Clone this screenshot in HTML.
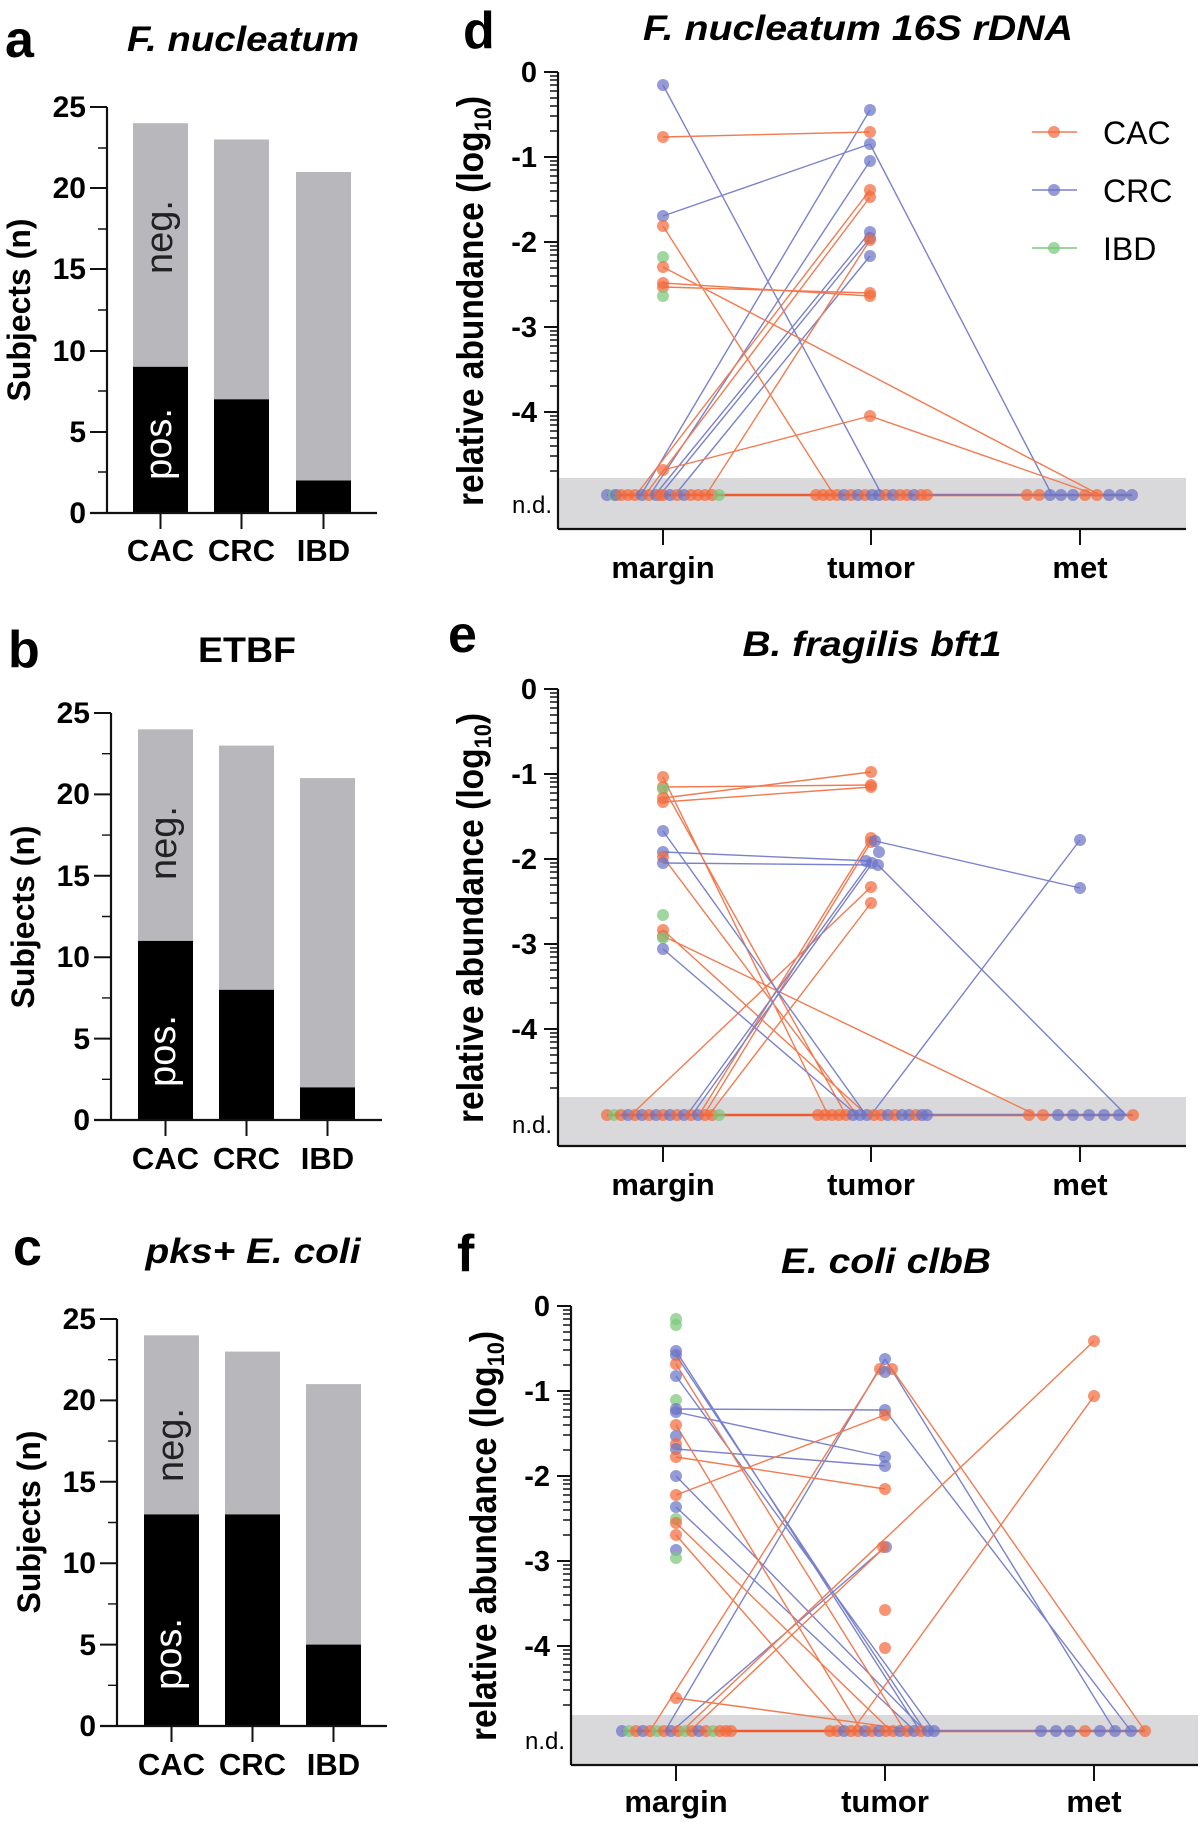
<!DOCTYPE html>
<html><head><meta charset="utf-8"><style>
html,body{margin:0;padding:0;background:#fff}
svg{display:block}
text{font-family:"Liberation Sans",Arial,sans-serif}
.bd{font-weight:bold}
.ax{stroke:#111;stroke-width:2.2;fill:none}
.tk{stroke:#111;stroke-width:2;fill:none}
.mt{stroke:#111;stroke-width:1.4;fill:none}
.o{fill:#f26b3d;fill-opacity:.72}
.b{fill:#6b74c6;fill-opacity:.72}
.g{fill:#7cc87c;fill-opacity:.72}
.lo{stroke:#f37a50;stroke-width:1.4;fill:none}
.lb{stroke:#7a82cb;stroke-width:1.4;fill:none}
.nd{stroke:#ef5a2e;stroke-width:2.6;fill:none}
.bar{fill:#b8b8bc}
</style></head><body>
<svg width="1200" height="1825" viewBox="0 0 1200 1825" xmlns="http://www.w3.org/2000/svg">
<rect width="1200" height="1825" fill="#fff"/>

<!-- ============ PANEL A ============ -->
<text x="5" y="57" class="bd" font-size="52">a</text>
<text x="243" y="51" class="bd" font-size="35" font-style="italic" text-anchor="middle" textLength="232" lengthAdjust="spacingAndGlyphs">F. nucleatum</text>
<rect class="bar" x="133" y="123.2" width="55" height="243.6"/>
<rect x="133" y="366.8" width="55" height="146.2" fill="#000"/>
<rect class="bar" x="214" y="139.5" width="55" height="259.8"/>
<rect x="214" y="399.3" width="55" height="113.7" fill="#000"/>
<rect class="bar" x="296" y="172" width="55" height="308.5"/>
<rect x="296" y="480.5" width="55" height="32.5" fill="#000"/>
<text transform="translate(172,237) rotate(-90)" font-size="38" fill="#222" text-anchor="middle">neg.</text>
<text transform="translate(171,444) rotate(-90)" font-size="38" fill="#fff" text-anchor="middle">pos.</text>
<path class="ax" d="M107 107V513M90 513H377"/>
<path class="tk" d="M90 107H107M90 188H107M90 269H107M90 351H107M90 432H107M160.5 513V529M241.5 513V529M323.5 513V529"/>
<path class="mt" d="M98 148H107M98 229H107M98 310H107M98 391H107M98 472H107"/>
<g class="bd" font-size="30" text-anchor="end">
<text x="86" y="117">25</text><text x="86" y="198">20</text><text x="86" y="279">15</text><text x="86" y="361">10</text><text x="86" y="442">5</text><text x="86" y="523">0</text>
</g>
<g class="bd" font-size="31" text-anchor="middle">
<text x="160.5" y="561">CAC</text><text x="241.5" y="561">CRC</text><text x="323.5" y="561">IBD</text>
</g>
<text transform="translate(30,310) rotate(-90)" class="bd" font-size="32" text-anchor="middle" textLength="183" lengthAdjust="spacingAndGlyphs">Subjects (n)</text>

<!-- ============ PANEL B ============ -->
<text x="8" y="667" class="bd" font-size="52">b</text>
<text x="247" y="662" class="bd" font-size="35" text-anchor="middle" textLength="98" lengthAdjust="spacingAndGlyphs">ETBF</text>
<rect class="bar" x="138" y="729.3" width="55" height="211.6"/>
<rect x="138" y="940.9" width="55" height="179.1" fill="#000"/>
<rect class="bar" x="219" y="745.6" width="55" height="244.2"/>
<rect x="219" y="989.8" width="55" height="130.2" fill="#000"/>
<rect class="bar" x="300" y="778.1" width="55" height="309.3"/>
<rect x="300" y="1087.4" width="55" height="32.6" fill="#000"/>
<text transform="translate(176,843) rotate(-90)" font-size="38" fill="#222" text-anchor="middle">neg.</text>
<text transform="translate(175,1051) rotate(-90)" font-size="38" fill="#fff" text-anchor="middle">pos.</text>
<path class="ax" d="M111 713V1120M94 1120H382"/>
<path class="tk" d="M94 713H111M94 794.4H111M94 875.8H111M94 957.2H111M94 1038.6H111M165.5 1120V1136M246.5 1120V1136M327.5 1120V1136"/>
<path class="mt" d="M102 753.7H111M102 835.1H111M102 916.5H111M102 997.9H111M102 1079.3H111"/>
<g class="bd" font-size="30" text-anchor="end">
<text x="90" y="723">25</text><text x="90" y="804">20</text><text x="90" y="886">15</text><text x="90" y="967">10</text><text x="90" y="1049">5</text><text x="90" y="1130">0</text>
</g>
<g class="bd" font-size="31" text-anchor="middle">
<text x="165.5" y="1169">CAC</text><text x="246.5" y="1169">CRC</text><text x="327.5" y="1169">IBD</text>
</g>
<text transform="translate(34,917) rotate(-90)" class="bd" font-size="32" text-anchor="middle" textLength="183" lengthAdjust="spacingAndGlyphs">Subjects (n)</text>

<!-- ============ PANEL C ============ -->
<text x="13" y="1265" class="bd" font-size="52">c</text>
<text x="253" y="1263" class="bd" font-size="35" font-style="italic" text-anchor="middle" textLength="215" lengthAdjust="spacingAndGlyphs">pks+ E. coli</text>
<rect class="bar" x="144" y="1335.3" width="55" height="179.1"/>
<rect x="144" y="1514.4" width="55" height="211.6" fill="#000"/>
<rect class="bar" x="225" y="1351.6" width="55" height="162.8"/>
<rect x="225" y="1514.4" width="55" height="211.6" fill="#000"/>
<rect class="bar" x="306" y="1384.1" width="55" height="260.5"/>
<rect x="306" y="1644.6" width="55" height="81.4" fill="#000"/>
<text transform="translate(183,1445) rotate(-90)" font-size="38" fill="#222" text-anchor="middle">neg.</text>
<text transform="translate(181,1654) rotate(-90)" font-size="38" fill="#fff" text-anchor="middle">pos.</text>
<path class="ax" d="M117 1319V1726M100 1726H387"/>
<path class="tk" d="M100 1319H117M100 1400.4H117M100 1481.8H117M100 1563.2H117M100 1644.6H117M171.5 1726V1742M252.5 1726V1742M333.5 1726V1742"/>
<path class="mt" d="M108 1359.7H117M108 1441.1H117M108 1522.5H117M108 1603.9H117M108 1685.3H117"/>
<g class="bd" font-size="30" text-anchor="end">
<text x="96" y="1329">25</text><text x="96" y="1410">20</text><text x="96" y="1492">15</text><text x="96" y="1573">10</text><text x="96" y="1655">5</text><text x="96" y="1736">0</text>
</g>
<g class="bd" font-size="31" text-anchor="middle">
<text x="171.5" y="1775">CAC</text><text x="252.5" y="1775">CRC</text><text x="333.5" y="1775">IBD</text>
</g>
<text transform="translate(40,1522) rotate(-90)" class="bd" font-size="32" text-anchor="middle" textLength="183" lengthAdjust="spacingAndGlyphs">Subjects (n)</text>

<!-- ============ PANEL D ============ -->
<text x="463" y="48" class="bd" font-size="52">d</text>
<text x="858" y="40" class="bd" font-size="35" font-style="italic" text-anchor="middle" textLength="430" lengthAdjust="spacingAndGlyphs">F. nucleatum 16S rDNA</text>
<rect x="558" y="478" width="628" height="51" fill="#d9d9db"/>
<path class="ax" d="M558 72V529M558 529H1186"/>
<path class="tk" d="M544 72H558M544 157H558M544 242H558M544 327H558M544 412H558M663 529V545M871 529V545M1080 529V545"/>
<path class="mt" d="M550 76h8M550 80h8M550 85h8M550 91h8M550 98h8M550 106h8M550 116h8M550 131h8M550 161h8M550 165h8M550 170h8M550 176h8M550 183h8M550 191h8M550 201h8M550 216h8M550 246h8M550 250h8M550 255h8M550 261h8M550 268h8M550 276h8M550 286h8M550 301h8M550 331h8M550 335h8M550 340h8M550 346h8M550 353h8M550 361h8M550 371h8M550 386h8M550 416h8M550 420h8M550 425h8M550 431h8M550 438h8M550 446h8M550 456h8M550 471h8"/>
<g class="bd" font-size="29" text-anchor="end">
<text x="537" y="82">0</text><text x="537" y="167">-1</text><text x="537" y="252">-2</text><text x="537" y="337">-3</text><text x="537" y="422">-4</text>
</g>
<text x="552" y="513" font-size="24" text-anchor="end">n.d.</text>
<g class="bd" font-size="31" text-anchor="middle">
<text x="663" y="578">margin</text><text x="871" y="578">tumor</text><text x="1080" y="578">met</text>
</g>
<text transform="translate(483,301) rotate(-90)" class="bd" font-size="37" text-anchor="middle" textLength="410" lengthAdjust="spacingAndGlyphs">relative abundance (log<tspan font-size="24" dy="8">10</tspan><tspan dy="-8">)</tspan></text>
<!-- legend -->
<path class="lo" d="M1032 132H1077"/><circle class="o" cx="1054" cy="132" r="6"/>
<path class="lb" d="M1032 190H1077"/><circle class="b" cx="1054" cy="190" r="6"/>
<path stroke="#7cc87c" stroke-width="1.4" d="M1032 248H1077"/><circle class="g" cx="1054" cy="248" r="6"/>
<g font-size="32"><text x="1103" y="144">CAC</text><text x="1103" y="202">CRC</text><text x="1103" y="260">IBD</text></g>
<!-- d lines -->
<path class="nd" d="M607 495H1132"/>
<path class="lb" d="M870 495H1132" stroke-width="1.6"/>
<g class="lb"><path d="M663 85L882 495M663 216L870 144M870 144L1052 495M641 495L870 110M650 495L870 161M655 495L870 232M660 495L870 238M675 495L870 256"/></g>
<g class="lo"><path d="M663 137L870 132M663 226L834 495M663 267L1100 495M663 283L870 296M663 287L870 293M663 470L870 416M870 416L1097 495M636 495L870 190M645 495L870 197M706 495L870 240"/></g>
<!-- d markers -->
<g>
<circle class="b" cx="663" cy="85" r="6"/><circle class="o" cx="663" cy="137" r="6"/><circle class="b" cx="663" cy="216" r="6"/><circle class="o" cx="663" cy="226" r="6"/><circle class="g" cx="663" cy="257" r="6"/><circle class="o" cx="663" cy="267" r="6"/><circle class="o" cx="663" cy="283" r="6"/><circle class="o" cx="663" cy="287" r="6"/><circle class="g" cx="663" cy="296" r="6"/><circle class="o" cx="663" cy="470" r="6"/>
<circle class="b" cx="870" cy="110" r="6"/><circle class="o" cx="870" cy="132" r="6"/><circle class="b" cx="870" cy="144" r="6"/><circle class="b" cx="870" cy="161" r="6"/><circle class="o" cx="870" cy="190" r="6"/><circle class="o" cx="870" cy="197" r="6"/><circle class="b" cx="870" cy="232" r="6"/><circle class="b" cx="870" cy="238" r="6"/><circle class="o" cx="870" cy="240" r="6"/><circle class="b" cx="870" cy="256" r="6"/><circle class="o" cx="870" cy="293" r="6"/><circle class="o" cx="870" cy="296" r="6"/><circle class="o" cx="870" cy="416" r="6"/>
</g>
<g>
<circle class="b" cx="607" cy="495" r="6"/><circle class="g" cx="614" cy="495" r="6"/><circle class="b" cx="616" cy="495" r="6"/><circle class="o" cx="621" cy="495" r="6"/><circle class="o" cx="628" cy="495" r="6"/><circle class="o" cx="635" cy="495" r="6"/><circle class="b" cx="642" cy="495" r="6"/><circle class="o" cx="649" cy="495" r="6"/><circle class="b" cx="656" cy="495" r="6"/><circle class="o" cx="660" cy="495" r="6"/><circle class="o" cx="663" cy="495" r="6"/><circle class="b" cx="670" cy="495" r="6"/><circle class="o" cx="677" cy="495" r="6"/><circle class="b" cx="684" cy="495" r="6"/><circle class="o" cx="691" cy="495" r="6"/><circle class="o" cx="698" cy="495" r="6"/><circle class="o" cx="705" cy="495" r="6"/><circle class="o" cx="712" cy="495" r="6"/><circle class="g" cx="719" cy="495" r="6"/>
<circle class="o" cx="816" cy="495" r="6"/><circle class="o" cx="823" cy="495" r="6"/><circle class="o" cx="830" cy="495" r="6"/><circle class="o" cx="837" cy="495" r="6"/><circle class="b" cx="844" cy="495" r="6"/><circle class="o" cx="851" cy="495" r="6"/><circle class="b" cx="858" cy="495" r="6"/><circle class="o" cx="865" cy="495" r="6"/><circle class="b" cx="872" cy="495" r="6"/><circle class="b" cx="879" cy="495" r="6"/><circle class="o" cx="886" cy="495" r="6"/><circle class="b" cx="893" cy="495" r="6"/><circle class="o" cx="900" cy="495" r="6"/><circle class="o" cx="907" cy="495" r="6"/><circle class="b" cx="914" cy="495" r="6"/><circle class="o" cx="921" cy="495" r="6"/><circle class="o" cx="927" cy="495" r="6"/>
<circle class="o" cx="1027" cy="495" r="6"/><circle class="o" cx="1039" cy="495" r="6"/><circle class="b" cx="1050" cy="495" r="6"/><circle class="b" cx="1061" cy="495" r="6"/><circle class="b" cx="1073" cy="495" r="6"/><circle class="o" cx="1085" cy="495" r="6"/><circle class="o" cx="1097" cy="495" r="6"/><circle class="b" cx="1109" cy="495" r="6"/><circle class="b" cx="1121" cy="495" r="6"/><circle class="b" cx="1132" cy="495" r="6"/>
</g>

<!-- ============ PANEL E ============ -->
<text x="448" y="652" class="bd" font-size="52">e</text>
<text x="872" y="656" class="bd" font-size="35" font-style="italic" text-anchor="middle" textLength="259" lengthAdjust="spacingAndGlyphs">B. fragilis bft1</text>
<rect x="558" y="1097" width="628" height="49" fill="#d9d9db"/>
<path class="ax" d="M558 689V1146M558 1146H1186"/>
<path class="tk" d="M544 689H558M544 774H558M544 859H558M544 944H558M544 1029H558M663 1146V1162M871 1146V1162M1080 1146V1162"/>
<path class="mt" d="M550 693h8M550 697h8M550 702h8M550 708h8M550 715h8M550 723h8M550 733h8M550 748h8M550 778h8M550 782h8M550 787h8M550 793h8M550 800h8M550 808h8M550 818h8M550 833h8M550 863h8M550 867h8M550 872h8M550 878h8M550 885h8M550 893h8M550 903h8M550 918h8M550 948h8M550 952h8M550 957h8M550 963h8M550 970h8M550 978h8M550 988h8M550 1003h8M550 1033h8M550 1037h8M550 1042h8M550 1048h8M550 1055h8M550 1063h8M550 1073h8M550 1088h8"/>
<g class="bd" font-size="29" text-anchor="end">
<text x="537" y="699">0</text><text x="537" y="784">-1</text><text x="537" y="869">-2</text><text x="537" y="954">-3</text><text x="537" y="1039">-4</text>
</g>
<text x="552" y="1133" font-size="24" text-anchor="end">n.d.</text>
<g class="bd" font-size="31" text-anchor="middle">
<text x="663" y="1195">margin</text><text x="871" y="1195">tumor</text><text x="1080" y="1195">met</text>
</g>
<text transform="translate(483,918) rotate(-90)" class="bd" font-size="37" text-anchor="middle" textLength="410" lengthAdjust="spacingAndGlyphs">relative abundance (log<tspan font-size="24" dy="8">10</tspan><tspan dy="-8">)</tspan></text>
<path class="nd" d="M607 1115H1133"/>
<path class="lb" d="M871 1115H1133" stroke-width="1.6"/>
<g class="lo"><path d="M663 777L828 1115M663 787L846 1115M663 787L871 785M663 798L871 772M663 802L871 787M663 857L857 1115M663 930L867 1115M663 936L1036 1115M631 1115L871 887M699 1115L871 838M704 1115L871 842M709 1115L871 903"/></g>
<g class="lb"><path d="M663 831L866 1115M663 852L871 861M663 863L871 865M663 949L857 1115M875 841L1080 888M878 865L1126 1115M871 1115L1080 840M687 1115L871 861M692 1115L871 865"/></g>
<g>
<circle class="o" cx="663" cy="777" r="6"/><circle class="o" cx="663" cy="787" r="6"/><circle class="g" cx="663" cy="789" r="6"/><circle class="o" cx="663" cy="798" r="6"/><circle class="o" cx="663" cy="802" r="6"/><circle class="b" cx="663" cy="831" r="6"/><circle class="b" cx="663" cy="852" r="6"/><circle class="o" cx="663" cy="857" r="6"/><circle class="b" cx="663" cy="863" r="6"/><circle class="g" cx="663" cy="915" r="6"/><circle class="o" cx="663" cy="930" r="6"/><circle class="o" cx="663" cy="936" r="6"/><circle class="g" cx="663" cy="938" r="6"/><circle class="b" cx="663" cy="949" r="6"/>
<circle class="o" cx="871" cy="772" r="6"/><circle class="o" cx="871" cy="785" r="6"/><circle class="o" cx="871" cy="787" r="6"/><circle class="o" cx="871" cy="838" r="6"/><circle class="o" cx="871" cy="842" r="6"/><circle class="b" cx="875" cy="841" r="6"/><circle class="b" cx="879" cy="852" r="6"/><circle class="b" cx="866" cy="861" r="6"/><circle class="b" cx="872" cy="863" r="6"/><circle class="b" cx="878" cy="865" r="6"/><circle class="o" cx="871" cy="887" r="6"/><circle class="o" cx="871" cy="903" r="6"/>
<circle class="b" cx="1080" cy="840" r="6"/><circle class="b" cx="1080" cy="888" r="6"/>
</g>
<g>
<circle class="o" cx="607" cy="1115" r="6"/><circle class="g" cx="614" cy="1115" r="6"/><circle class="o" cx="621" cy="1115" r="6"/><circle class="b" cx="628" cy="1115" r="6"/><circle class="o" cx="635" cy="1115" r="6"/><circle class="b" cx="642" cy="1115" r="6"/><circle class="o" cx="649" cy="1115" r="6"/><circle class="b" cx="656" cy="1115" r="6"/><circle class="o" cx="663" cy="1115" r="6"/><circle class="b" cx="670" cy="1115" r="6"/><circle class="o" cx="677" cy="1115" r="6"/><circle class="b" cx="684" cy="1115" r="6"/><circle class="o" cx="691" cy="1115" r="6"/><circle class="b" cx="698" cy="1115" r="6"/><circle class="o" cx="705" cy="1115" r="6"/><circle class="o" cx="712" cy="1115" r="6"/><circle class="g" cx="719" cy="1115" r="6"/>
<circle class="o" cx="818" cy="1115" r="6"/><circle class="o" cx="825" cy="1115" r="6"/><circle class="o" cx="832" cy="1115" r="6"/><circle class="o" cx="839" cy="1115" r="6"/><circle class="o" cx="846" cy="1115" r="6"/><circle class="b" cx="853" cy="1115" r="6"/><circle class="b" cx="860" cy="1115" r="6"/><circle class="b" cx="867" cy="1115" r="6"/><circle class="o" cx="874" cy="1115" r="6"/><circle class="o" cx="881" cy="1115" r="6"/><circle class="b" cx="888" cy="1115" r="6"/><circle class="o" cx="895" cy="1115" r="6"/><circle class="b" cx="902" cy="1115" r="6"/><circle class="b" cx="909" cy="1115" r="6"/><circle class="o" cx="916" cy="1115" r="6"/><circle class="b" cx="922" cy="1115" r="6"/><circle class="b" cx="927" cy="1115" r="6"/>
<circle class="o" cx="1029" cy="1115" r="6"/><circle class="o" cx="1043" cy="1115" r="6"/><circle class="b" cx="1058" cy="1115" r="6"/><circle class="b" cx="1073" cy="1115" r="6"/><circle class="b" cx="1089" cy="1115" r="6"/><circle class="b" cx="1104" cy="1115" r="6"/><circle class="b" cx="1119" cy="1115" r="6"/><circle class="o" cx="1133" cy="1115" r="6"/>
</g>

<!-- ============ PANEL F ============ -->
<text x="457" y="1271" class="bd" font-size="52">f</text>
<text x="886" y="1273" class="bd" font-size="35" font-style="italic" text-anchor="middle" textLength="210" lengthAdjust="spacingAndGlyphs">E. coli clbB</text>
<rect x="571" y="1715" width="627" height="50" fill="#d9d9db"/>
<path class="ax" d="M571 1306V1765M571 1765H1198"/>
<path class="tk" d="M557 1306H571M557 1391H571M557 1476H571M557 1561H571M557 1646H571M676 1765V1781M885 1765V1781M1094 1765V1781"/>
<path class="mt" d="M563 1310h8M563 1314h8M563 1319h8M563 1325h8M563 1332h8M563 1340h8M563 1350h8M563 1365h8M563 1395h8M563 1399h8M563 1404h8M563 1410h8M563 1417h8M563 1425h8M563 1435h8M563 1450h8M563 1480h8M563 1484h8M563 1489h8M563 1495h8M563 1502h8M563 1510h8M563 1520h8M563 1535h8M563 1565h8M563 1569h8M563 1574h8M563 1580h8M563 1587h8M563 1595h8M563 1605h8M563 1620h8M563 1650h8M563 1654h8M563 1659h8M563 1665h8M563 1672h8M563 1680h8M563 1690h8M563 1705h8"/>
<g class="bd" font-size="29" text-anchor="end">
<text x="550" y="1316">0</text><text x="550" y="1401">-1</text><text x="550" y="1486">-2</text><text x="550" y="1571">-3</text><text x="550" y="1656">-4</text>
</g>
<text x="565" y="1749" font-size="24" text-anchor="end">n.d.</text>
<g class="bd" font-size="31" text-anchor="middle">
<text x="676" y="1812">margin</text><text x="885" y="1812">tumor</text><text x="1094" y="1812">met</text>
</g>
<text transform="translate(496,1536) rotate(-90)" class="bd" font-size="37" text-anchor="middle" textLength="410" lengthAdjust="spacingAndGlyphs">relative abundance (log<tspan font-size="24" dy="8">10</tspan><tspan dy="-8">)</tspan></text>
<path class="nd" d="M622 1731H1145"/>
<path class="lb" d="M885 1731H1145" stroke-width="1.6"/>
<g class="lb"><path d="M676 1351L920 1731M676 1355L925 1731M676 1376L934 1731M676 1409L885 1410M676 1412L885 1457M676 1449L885 1466M676 1476L925 1731M676 1507L915 1731M665 1731L885 1359M672 1731L885 1547M885 1359L1115 1731M885 1410L1131 1731"/></g>
<g class="lo"><path d="M676 1364L905 1731M676 1425L862 1731M676 1457L885 1489M676 1495L885 1415M676 1523L891 1731M676 1535L847 1731M676 1698L920 1731M650 1731L880 1369M690 1731L885 1547M682 1731L1094 1341M852 1731L1094 1396M892 1369L1145 1731"/></g>
<g>
<circle class="g" cx="676" cy="1319" r="6"/><circle class="g" cx="676" cy="1325" r="6"/><circle class="b" cx="676" cy="1351" r="6"/><circle class="b" cx="676" cy="1355" r="6"/><circle class="o" cx="676" cy="1364" r="6"/><circle class="b" cx="676" cy="1376" r="6"/><circle class="g" cx="676" cy="1400" r="6"/><circle class="b" cx="676" cy="1409" r="6"/><circle class="b" cx="676" cy="1412" r="6"/><circle class="o" cx="676" cy="1425" r="6"/><circle class="b" cx="676" cy="1436" r="6"/><circle class="o" cx="676" cy="1444" r="6"/><circle class="b" cx="676" cy="1449" r="6"/><circle class="o" cx="676" cy="1457" r="6"/><circle class="b" cx="676" cy="1476" r="6"/><circle class="o" cx="676" cy="1495" r="6"/><circle class="b" cx="676" cy="1507" r="6"/><circle class="g" cx="676" cy="1519" r="6"/><circle class="o" cx="676" cy="1523" r="6"/><circle class="o" cx="676" cy="1535" r="6"/><circle class="b" cx="676" cy="1550" r="6"/><circle class="g" cx="676" cy="1558" r="6"/><circle class="o" cx="676" cy="1698" r="6"/>
<circle class="b" cx="885" cy="1359" r="6"/><circle class="o" cx="880" cy="1369" r="6"/><circle class="o" cx="892" cy="1369" r="6"/><circle class="b" cx="885" cy="1372" r="6"/><circle class="b" cx="885" cy="1410" r="6"/><circle class="o" cx="885" cy="1415" r="6"/><circle class="b" cx="885" cy="1457" r="6"/><circle class="b" cx="885" cy="1466" r="6"/><circle class="o" cx="885" cy="1489" r="6"/><circle class="b" cx="886" cy="1547" r="6"/><circle class="o" cx="883" cy="1547" r="6"/><circle class="o" cx="885" cy="1610" r="6"/><circle class="o" cx="885" cy="1648" r="6"/>
<circle class="o" cx="1094" cy="1341" r="6"/><circle class="o" cx="1094" cy="1396" r="6"/>
</g>
<g>
<circle class="b" cx="622" cy="1731" r="6"/><circle class="g" cx="629" cy="1731" r="6"/><circle class="o" cx="636" cy="1731" r="6"/><circle class="b" cx="643" cy="1731" r="6"/><circle class="o" cx="650" cy="1731" r="6"/><circle class="g" cx="657" cy="1731" r="6"/><circle class="o" cx="664" cy="1731" r="6"/><circle class="b" cx="671" cy="1731" r="6"/><circle class="o" cx="678" cy="1731" r="6"/><circle class="g" cx="685" cy="1731" r="6"/><circle class="o" cx="692" cy="1731" r="6"/><circle class="b" cx="699" cy="1731" r="6"/><circle class="o" cx="706" cy="1731" r="6"/><circle class="g" cx="713" cy="1731" r="6"/><circle class="o" cx="720" cy="1731" r="6"/><circle class="o" cx="726" cy="1731" r="6"/><circle class="o" cx="731" cy="1731" r="6"/>
<circle class="o" cx="830" cy="1731" r="6"/><circle class="o" cx="837" cy="1731" r="6"/><circle class="b" cx="844" cy="1731" r="6"/><circle class="o" cx="851" cy="1731" r="6"/><circle class="o" cx="858" cy="1731" r="6"/><circle class="b" cx="865" cy="1731" r="6"/><circle class="o" cx="872" cy="1731" r="6"/><circle class="b" cx="879" cy="1731" r="6"/><circle class="o" cx="886" cy="1731" r="6"/><circle class="o" cx="893" cy="1731" r="6"/><circle class="b" cx="900" cy="1731" r="6"/><circle class="o" cx="907" cy="1731" r="6"/><circle class="b" cx="914" cy="1731" r="6"/><circle class="o" cx="921" cy="1731" r="6"/><circle class="b" cx="928" cy="1731" r="6"/><circle class="b" cx="934" cy="1731" r="6"/>
<circle class="b" cx="1041" cy="1731" r="6"/><circle class="b" cx="1056" cy="1731" r="6"/><circle class="b" cx="1070" cy="1731" r="6"/><circle class="o" cx="1085" cy="1731" r="6"/><circle class="b" cx="1100" cy="1731" r="6"/><circle class="b" cx="1115" cy="1731" r="6"/><circle class="b" cx="1131" cy="1731" r="6"/><circle class="o" cx="1145" cy="1731" r="6"/>
</g>
</svg>
</body></html>
